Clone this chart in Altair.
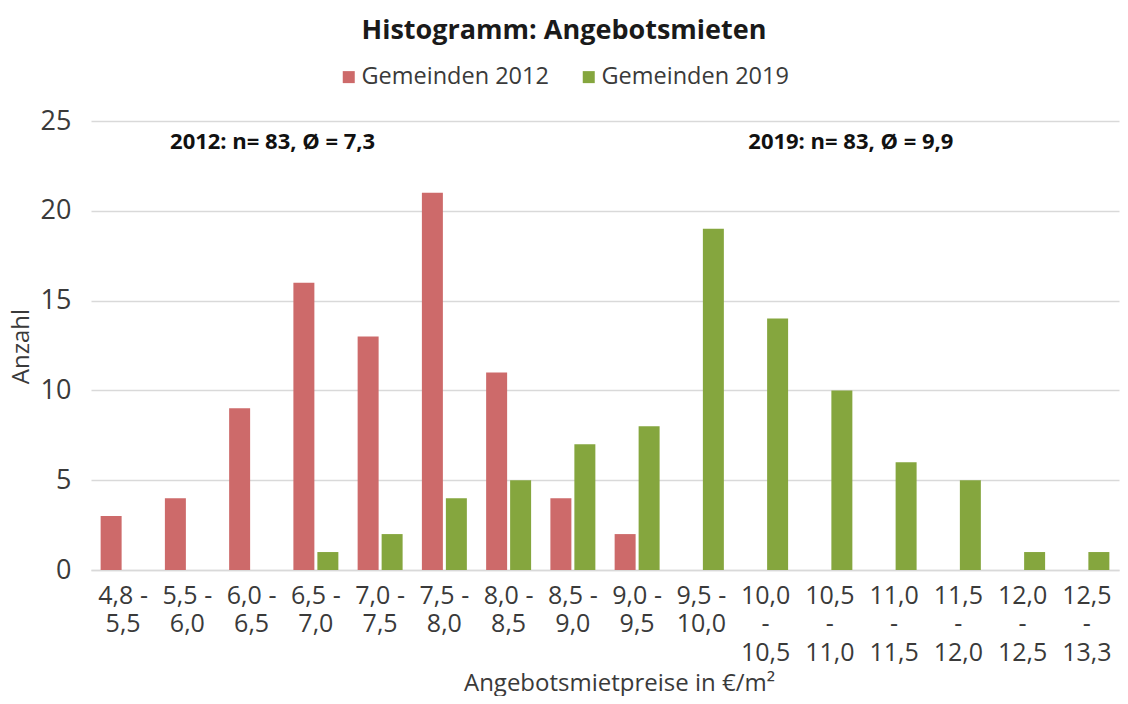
import altair as alt
import pandas as pd

categories = ["4,8 -|5,5", "5,5 -|6,0", "6,0 -|6,5", "6,5 -|7,0", "7,0 -|7,5",
              "7,5 -|8,0", "8,0 -|8,5", "8,5 -|9,0", "9,0 -|9,5", "9,5 -|10,0",
              "10,0|-|10,5", "10,5|-|11,0", "11,0|-|11,5", "11,5|-|12,0",
              "12,0|-|12,5", "12,5|-|13,3"]
values_2012 = [3, 4, 9, 16, 13, 21, 11, 4, 2, 0, 0, 0, 0, 0, 0, 0]
values_2019 = [0, 0, 0, 1, 2, 4, 5, 7, 8, 19, 14, 10, 6, 5, 1, 1]
series = ["Gemeinden 2012", "Gemeinden 2019"]
colors = ["#CD6A6A", "#85A63E"]

annotations = ["2012: n= 83, Ø = 7,3", "2019: n= 83, Ø = 9,9"]
annotation_cats = [categories[2], categories[11]]

rows = []
for c, v1, v2 in zip(categories, values_2012, values_2019):
    rows.append({"Kategorie": c, "Serie": series[0], "Anzahl": v1})
    rows.append({"Kategorie": c, "Serie": series[1], "Anzahl": v2})
df = pd.DataFrame(rows)
ann = pd.DataFrame({"Kategorie": annotation_cats, "text": annotations, "y": [24, 24]})

FONT = "Open Sans"

x_enc = alt.X("Kategorie:N", sort=categories,
              scale=alt.Scale(paddingInner=0.30, paddingOuter=0.15),
              axis=alt.Axis(title="Angebotsmietpreise in €/m²", labelAngle=0,
                            labelExpr="split(datum.value, '|')",
                            labelLineHeight=28.5, labelFontSize=25,
                            labelColor="#3A3A3A", labelPadding=13,
                            labelFont=FONT, ticks=False, domain=True,
                            domainColor="#D9D9D9", domainWidth=1.5,
                            titleFont=FONT, titleFontSize=24,
                            titleFontWeight="normal", titleColor="#3A3A3A",
                            titleBaseline="alphabetic", titleY=120,
                            titleX=528, labelBound=False, labelOverlap=False))

bars = alt.Chart(df).mark_bar().encode(
    x=x_enc,
    xOffset=alt.XOffset("Serie:N", sort=series,
                        scale=alt.Scale(domain=series, paddingInner=0.125, paddingOuter=0)),
    y=alt.Y("Anzahl:Q", scale=alt.Scale(domain=[0, 25], nice=False),
            axis=alt.Axis(values=[0, 5, 10, 15, 20, 25], title="Anzahl",
                          labelFontSize=27, labelFont=FONT, labelColor="#3A3A3A",
                          labelPadding=20, ticks=False, domain=False,
                          gridColor="#D9D9D9", gridWidth=1.5,
                          titleFont=FONT, titleFontSize=24, titleFontWeight="normal",
                          titleColor="#3A3A3A", titleBaseline="alphabetic",
                          titleX=-63, titleY=225)),
    color=alt.Color("Serie:N", sort=series,
                    scale=alt.Scale(domain=series, range=colors),
                    legend=alt.Legend(title=None, orient="none", direction="horizontal",
                                      legendX=246, legendY=-56, symbolType="square",
                                      symbolSize=144, symbolStrokeWidth=0,
                                      labelFont=FONT, labelFontSize=23.5, labelLimit=400,
                                      labelColor="#3A3A3A", columnPadding=28,
                                      labelOffset=1)),
)

texts = alt.Chart(ann).mark_text(font=FONT, fontSize=22, fontWeight="bold",
                                 color="#111111", dx=21, dy=3, baseline="middle").encode(
    x=alt.X("Kategorie:N", sort=categories),
    y=alt.Y("y:Q"),
    text="text:N",
)

chart = alt.layer(bars, texts).properties(
    width=1028, height=449,
    title=alt.TitleParams("Histogramm: Angebotsmieten", font=FONT, fontSize=27,
                          fontWeight="bold", color="#1A1A1A", anchor="middle",
                          dx=-41, offset=20),
    autosize=alt.AutoSizeParams(type="none"),
    padding={"left": 83, "top": 113, "right": 1, "bottom": 126},
).configure_view(stroke=None)

chart.save("out.html", embed_options={"renderer": "svg", "actions": False})
